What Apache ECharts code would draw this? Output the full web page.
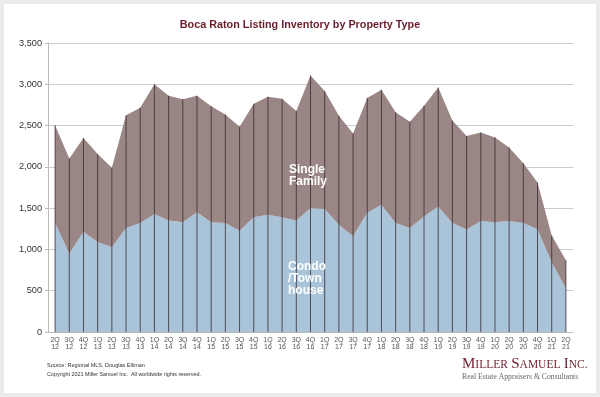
<!DOCTYPE html>
<html>
<head>
<meta charset="utf-8">
<script src="https://cdn.jsdelivr.net/npm/echarts@6/dist/echarts.min.js"></script>
<style>
  html, body { margin: 0; padding: 0; background: #ebebeb; }
  #chart-container { width: 600px; height: 397px; }
</style>
</head>
<body>
<div id="chart-container"></div>
<script>
// quarters, 2Q 12 .. 2Q 21
var quarters = [
  '2Q\n12', '3Q\n12', '4Q\n12', '1Q\n13', '2Q\n13', '3Q\n13', '4Q\n13',
  '1Q\n14', '2Q\n14', '3Q\n14', '4Q\n14', '1Q\n15', '2Q\n15', '3Q\n15', '4Q\n15',
  '1Q\n16', '2Q\n16', '3Q\n16', '4Q\n16', '1Q\n17', '2Q\n17', '3Q\n17', '4Q\n17',
  '1Q\n18', '2Q\n18', '3Q\n18', '4Q\n18', '1Q\n19', '2Q\n19', '3Q\n19', '4Q\n19',
  '1Q\n20', '2Q\n20', '3Q\n20', '4Q\n20', '1Q\n21', '2Q\n21'
];
var condo = [
  1320, 950, 1215, 1090, 1025, 1260, 1320,
  1430, 1350, 1330, 1450, 1330, 1320, 1225, 1390,
  1420, 1390, 1350, 1500, 1490, 1300, 1160, 1445,
  1540, 1320, 1260, 1400, 1520, 1320, 1240, 1345,
  1330, 1345, 1320, 1245, 843, 530
];
var totals = [
  2505, 2100, 2350, 2155, 1990, 2625, 2715,
  3000, 2860, 2820, 2860, 2735, 2635, 2485, 2765,
  2850, 2825, 2675, 3105, 2920, 2620, 2405, 2835,
  2935, 2660, 2545, 2740, 2960, 2560, 2375, 2415,
  2355, 2235, 2045, 1810, 1170, 870
];
var singleFamily = totals.map(function (t, i) { return t - condo[i]; });

var dom = document.getElementById('chart-container');
var myChart = echarts.init(dom, null, { renderer: 'canvas' });
var font = '"Liberation Sans", Arial, sans-serif';
var serif = '"Liberation Serif", "Times New Roman", serif';

var option = {
  animation: false,
  textStyle: { fontFamily: font },
  title: {
    text: 'Boca Raton Listing Inventory by Property Type',
    left: 'center',
    top: 15,
    textStyle: { fontSize: 10.8, fontWeight: 'bold', color: '#6b1d2b', fontFamily: font }
  },
  grid: { left: 48, right: 27, top: 43, bottom: 65 },
  xAxis: {
    type: 'category',
    data: quarters,
    boundaryGap: true,
    axisLine: { lineStyle: { color: '#bbbbbb' } },
    axisTick: { show: false },
    axisLabel: { interval: 0, fontSize: 7, lineHeight: 7.5, color: '#555', margin: 4 }
  },
  yAxis: {
    type: 'value',
    min: 0,
    max: 3500,
    interval: 500,
    axisLine: { show: true, lineStyle: { color: '#bbbbbb' } },
    axisTick: { show: true, length: 3, lineStyle: { color: '#bbbbbb' } },
    splitLine: { lineStyle: { color: '#cccccc' } },
    axisLabel: {
      fontSize: 9.2,
      color: '#333',
      margin: 6,
      formatter: function (v) { return v.toLocaleString('en-US'); }
    }
  },
  graphic: [
    { type: 'rect', z: -10, shape: { x: 4, y: 4, width: 592, height: 389 }, style: { fill: '#ffffff' } },
    { type: 'text', z: 100, left: 289, top: 163, style: { text: 'Single\nFamily', fill: '#ffffff', font: 'bold 12px ' + font, lineHeight: 12.5 } },
    { type: 'text', z: 100, left: 288, top: 261, style: { text: 'Condo\n/Town\nhouse', fill: '#ffffff', font: 'bold 12px ' + font, lineHeight: 11.8 } },
    { type: 'text', left: 47, top: 362, style: { text: 'Source: Regional MLS, Douglas Elliman', fill: '#333', font: '5.5px ' + font } },
    { type: 'text', left: 47, top: 372, style: { text: 'Copyright 2021 Miller Samuel Inc.  All worldwide rights reserved.', fill: '#333', font: '5.4px ' + font } },
    {
      type: 'text', left: 462, top: 357,
      style: {
        text: '{b|M}{s|ILLER} {b|S}{s|AMUEL} {b|I}{s|NC.}',
        rich: {
          b: { fontFamily: serif, fontSize: 15, fill: '#6e1f2e', color: '#6e1f2e' },
          s: { fontFamily: serif, fontSize: 11.5, fill: '#6e1f2e', color: '#6e1f2e' }
        }
      }
    },
    { type: 'text', left: 462, top: 373, style: { text: 'Real Estate Appraisers & Consultants', fill: '#666', font: '7.7px ' + serif } }
  ],
  series: [
    {
      name: 'Condo/Townhouse',
      type: 'line',
      stack: 'total',
      data: condo,
      symbol: 'none',
      lineStyle: { width: 0 },
      areaStyle: { color: '#a9c4d9', opacity: 1 },
      z: 2
    },
    {
      name: 'Single Family',
      type: 'line',
      stack: 'total',
      data: singleFamily,
      symbol: 'none',
      lineStyle: { width: 0 },
      areaStyle: { color: '#9b8686', opacity: 1 },
      z: 2
    },
    {
      name: 'drop',
      type: 'bar',
      data: totals,
      barWidth: 1,
      itemStyle: { color: 'rgba(58,44,50,0.8)' },
      silent: true,
      z: 3
    }
  ]
};
myChart.setOption(option);
window.addEventListener('resize', myChart.resize);
</script>
</body>
</html>
